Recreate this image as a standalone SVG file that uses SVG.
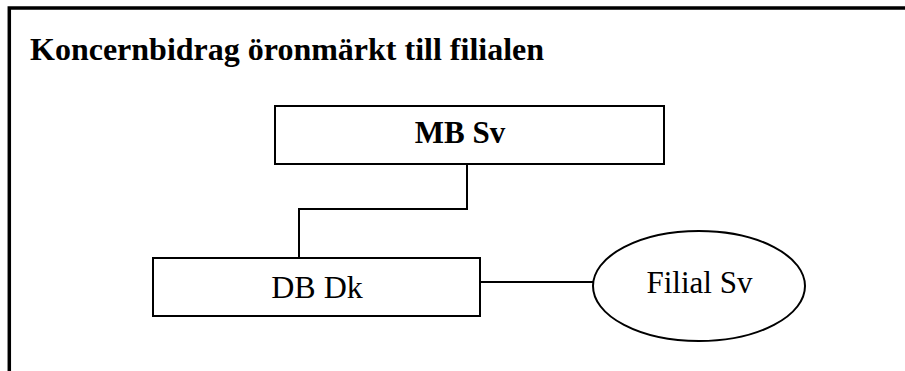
<svg xmlns="http://www.w3.org/2000/svg" width="905" height="371" viewBox="0 0 905 371">
  <style>
    .frame { fill: none; stroke: #000; stroke-width: 3.5; }
    .shape { fill: #fff; stroke: #000; stroke-width: 2; }
    .wire { fill: none; stroke: #000; stroke-width: 2; }
    .lbl { font-family: "Liberation Serif", "Times New Roman", serif; fill: #000; }
    .bold { font-weight: bold; }
  </style>
  <rect x="0" y="0" width="905" height="371" fill="#fff"/>

  <!-- open frame: top and left edges only -->
  <path class="frame" d="M9.3 371 V8 H905"/>

  <text class="lbl bold" x="30" y="59.5" font-size="32">Koncernbidrag öronmärkt till filialen</text>

  <g id="connectors">
    <path class="wire" d="M467 164 V209 H299 V258"/>
    <path class="wire" d="M480 282 H593"/>
  </g>

  <g id="mb-sv">
    <rect class="shape" x="275" y="106" width="389" height="58"/>
    <text class="lbl bold" x="460" y="143" font-size="31" text-anchor="middle">MB Sv</text>
  </g>

  <g id="db-dk">
    <rect class="shape" x="153" y="258" width="327" height="58"/>
    <text class="lbl" x="317" y="298" font-size="32" text-anchor="middle">DB Dk</text>
  </g>

  <g id="filial-sv">
    <ellipse class="shape" cx="699" cy="286" rx="106" ry="55"/>
    <text class="lbl" x="699.5" y="293" font-size="31" text-anchor="middle">Filial Sv</text>
  </g>
</svg>
